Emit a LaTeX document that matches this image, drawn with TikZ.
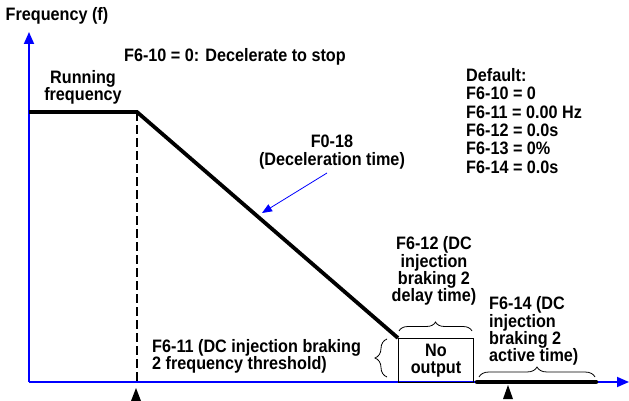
\documentclass[tikz,border=0pt]{standalone}
\usepackage{fontspec}
\setmainfont{Liberation Sans}[FakeStretch=0.9]
\usepackage{tikz}
\usetikzlibrary{arrows.meta,decorations.pathreplacing}

\tikzset{
    txt/.style={font=\bfseries\fontsize{18}{17.3}\selectfont, inner sep=0pt, align=center},
    axis/.style={draw=blue, line width=1.8pt, -{Triangle[width=10pt,length=12pt]}},
    curve/.style={line width=3.8pt},
    brc/.style={decorate, decoration={brace, amplitude=#1}, line width=0.8pt},
    mark tip/.style={fill=black}
}

\begin{document}
\begin{tikzpicture}[x=1pt, y=-1pt]
        \useasboundingbox (0,0) rectangle (629,401);

        \coordinate (O) at (29,382);
        \coordinate (ytip) at (29,32);
        \coordinate (xtip) at (629,382);
        \coordinate (run0) at (29,112);
        \coordinate (run1) at (137,112);
        \coordinate (stop) at (398,338);
        \coordinate (act0) at (477,382);
        \coordinate (act1) at (596,382);
        \coordinate (pstart) at (327,173);
        \coordinate (pend) at (262,213);

        \draw[axis] (O) -- (ytip);
        \draw[axis] (O) -- (xtip);

        \draw[curve] (run0) -- (run1) -- (stop);
        \draw[dash pattern=on 9pt off 4pt, line width=2pt] (run1) -- (run1 |- O);
        \node[draw, line width=1pt, minimum width=75, minimum height=44, anchor=north west, txt] (nooutput) at (stop) {No\\output};
        \draw[line width=4.5pt, line cap=round] (act0) -- (act1);

        \fill[mark tip] (136,388) -- (131,401) -- (141,401) -- cycle;
        \fill[mark tip] (508,385) -- (503,399) -- (513,399) -- cycle;

        \draw[brc=9pt] (399,331) -- (472,331);
        \draw[brc=12pt] (387,377) -- (387,339);
        \draw[brc=10pt] (479,377) -- (595,377);

        \node[txt] (ylabel) at (57,16) {Frequency (f)};
        \node[txt] (mode) at (235,57) {F6-10 = 0: Decelerate to stop};
        \node[txt] (running) at (83,87) {Running\\frequency};
        \node[txt] (decel) at (332,152) {F0-18\\(Deceleration time)};
        \node[txt, align=left, anchor=north west, font=\bfseries\fontsize{18}{18.4}\selectfont] (defaults) at (466,68)
            {Default:\\F6-10 = 0\\F6-11 = 0.00 Hz\\F6-12 = 0.0s\\F6-13 = 0\%\\F6-14 = 0.0s};
        \node[txt] (delay) at (434,271) {F6-12 (DC\\injection\\braking 2\\delay time)};
        \node[txt, align=left, anchor=west] (thresh) at (152,356) {F6-11 (DC injection braking\\2 frequency threshold)};
        \node[txt, align=left, anchor=west] (active) at (489,331) {F6-14 (DC\\injection\\braking 2\\active time)};

        \draw[blue, line width=0.8pt, -{Triangle[width=8pt,length=10pt]}] (pstart) -- (pend);
    \end{tikzpicture}
\end{document}
